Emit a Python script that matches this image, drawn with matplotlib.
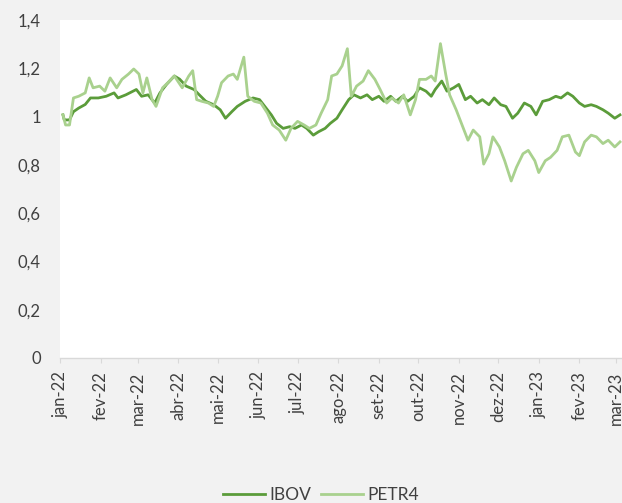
import datetime
import matplotlib
matplotlib.use('Agg')
from matplotlib import pyplot as plt
from matplotlib import dates as mdates
import pandas as pd

# IBOV, normalised to 1 at the start
ibov_dates = [
    '2022-01-03', '2022-01-04', '2022-01-08', '2022-01-11', '2022-01-15', '2022-01-20',
    '2022-01-24', '2022-01-30', '2022-02-05', '2022-02-11', '2022-02-14', '2022-02-20',
    '2022-02-28', '2022-03-04', '2022-03-09', '2022-03-14', '2022-03-18', '2022-03-23',
    '2022-03-29', '2022-04-02', '2022-04-07', '2022-04-13', '2022-04-17', '2022-04-22',
    '2022-04-28', '2022-05-03', '2022-05-07', '2022-05-12', '2022-05-16', '2022-05-22',
    '2022-05-28', '2022-06-02', '2022-06-06', '2022-06-11', '2022-06-15', '2022-06-20',
    '2022-06-25', '2022-06-29', '2022-07-04', '2022-07-08', '2022-07-13', '2022-07-17',
    '2022-07-22', '2022-07-26', '2022-07-31', '2022-08-04', '2022-08-09', '2022-08-13',
    '2022-08-18', '2022-08-23', '2022-08-27', '2022-09-01', '2022-09-05', '2022-09-10',
    '2022-09-14', '2022-09-19', '2022-09-23', '2022-09-28', '2022-10-02', '2022-10-07',
    '2022-10-11', '2022-10-14', '2022-10-19', '2022-10-23', '2022-10-28', '2022-11-01',
    '2022-11-06', '2022-11-10', '2022-11-15', '2022-11-19', '2022-11-24', '2022-11-28',
    '2022-12-03', '2022-12-07', '2022-12-12', '2022-12-16', '2022-12-21', '2022-12-26',
    '2022-12-30', '2023-01-04', '2023-01-09', '2023-01-14', '2023-01-18', '2023-01-23',
    '2023-01-27', '2023-02-01', '2023-02-05', '2023-02-10', '2023-02-14', '2023-02-19',
    '2023-02-23', '2023-02-28', '2023-03-04',
]
ibov = [
    1.007, 0.986, 0.986, 1.020, 1.035, 1.050,
    1.077, 1.077, 1.084, 1.098, 1.077, 1.090,
    1.112, 1.084, 1.090, 1.056, 1.098, 1.133,
    1.168, 1.155, 1.126, 1.112, 1.090, 1.063,
    1.049, 1.028, 0.993, 1.021, 1.042, 1.063,
    1.077, 1.070, 1.042, 1.007, 0.972, 0.951,
    0.958, 0.951, 0.965, 0.951, 0.923, 0.937,
    0.951, 0.972, 0.993, 1.028, 1.070, 1.090,
    1.077, 1.090, 1.070, 1.084, 1.063, 1.084,
    1.063, 1.084, 1.063, 1.084, 1.119, 1.105,
    1.084, 1.112, 1.147, 1.105, 1.119, 1.133,
    1.070, 1.084, 1.056, 1.070, 1.049, 1.077,
    1.049, 1.042, 0.993, 1.014, 1.056, 1.042,
    1.007, 1.063, 1.070, 1.084, 1.077, 1.098,
    1.084, 1.056, 1.042, 1.049, 1.042, 1.028,
    1.014, 0.993, 1.007,
]

# PETR4, normalised to 1 at the start
petr_dates = [
    '2022-01-03', '2022-01-05', '2022-01-08', '2022-01-11', '2022-01-15', '2022-01-20',
    '2022-01-23', '2022-01-26', '2022-01-31', '2022-02-04', '2022-02-08', '2022-02-13',
    '2022-02-17', '2022-02-22', '2022-02-26', '2022-03-02', '2022-03-05', '2022-03-08',
    '2022-03-12', '2022-03-15', '2022-03-20', '2022-03-24', '2022-03-29', '2022-04-04',
    '2022-04-09', '2022-04-12', '2022-04-15', '2022-04-19', '2022-04-24', '2022-04-28',
    '2022-05-01', '2022-05-04', '2022-05-09', '2022-05-13', '2022-05-16', '2022-05-21',
    '2022-05-24', '2022-05-29', '2022-06-03', '2022-06-08', '2022-06-12', '2022-06-17',
    '2022-06-22', '2022-06-26', '2022-07-01', '2022-07-06', '2022-07-10', '2022-07-15',
    '2022-07-19', '2022-07-24', '2022-07-27', '2022-07-31', '2022-08-04', '2022-08-08',
    '2022-08-11', '2022-08-15', '2022-08-20', '2022-08-24', '2022-08-29', '2022-09-02',
    '2022-09-07', '2022-09-11', '2022-09-16', '2022-09-20', '2022-09-25', '2022-09-29',
    '2022-10-02', '2022-10-07', '2022-10-11', '2022-10-14', '2022-10-18', '2022-10-22',
    '2022-10-25', '2022-10-30', '2022-11-03', '2022-11-08', '2022-11-12', '2022-11-17',
    '2022-11-20', '2022-11-24', '2022-11-27', '2022-12-02', '2022-12-06', '2022-12-11',
    '2022-12-15', '2022-12-20', '2022-12-24', '2022-12-29', '2023-01-01', '2023-01-06',
    '2023-01-10', '2023-01-15', '2023-01-19', '2023-01-24', '2023-01-29', '2023-02-01',
    '2023-02-05', '2023-02-10', '2023-02-14', '2023-02-19', '2023-02-23', '2023-02-28',
    '2023-03-04',
]
petr = [
    1.007, 0.965, 0.965, 1.077, 1.084, 1.098,
    1.160, 1.119, 1.126, 1.105, 1.160, 1.119,
    1.154, 1.176, 1.197, 1.176, 1.098, 1.160,
    1.070, 1.042, 1.119, 1.140, 1.168, 1.119,
    1.168, 1.190, 1.070, 1.063, 1.056, 1.042,
    1.084, 1.140, 1.168, 1.176, 1.154, 1.246,
    1.084, 1.063, 1.056, 1.014, 0.965, 0.944,
    0.902, 0.951, 0.980, 0.965, 0.951, 0.965,
    1.014, 1.070, 1.168, 1.176, 1.210, 1.281,
    1.084, 1.126, 1.147, 1.190, 1.154, 1.112,
    1.056, 1.077, 1.056, 1.090, 1.007, 1.070,
    1.154, 1.154, 1.168, 1.147, 1.302, 1.176,
    1.090, 1.028, 0.972, 0.902, 0.944, 0.916,
    0.803, 0.846, 0.916, 0.874, 0.817, 0.733,
    0.790, 0.846, 0.860, 0.817, 0.768, 0.817,
    0.831, 0.860, 0.916, 0.923, 0.853, 0.838,
    0.895, 0.923, 0.916, 0.888, 0.902, 0.874,
    0.895,
]

y_ticks = [0, 0.2, 0.4, 0.6, 0.8, 1, 1.2, 1.4]
month_names = ['jan', 'fev', 'mar', 'abr', 'mai', 'jun', 'jul', 'ago',
               'set', 'out', 'nov', 'dez']

plt.rcParams['font.family'] = ['Lato', 'DejaVu Sans']

fig = plt.figure(figsize=(6.22, 5.03), dpi=100, facecolor='#f2f2f2')
# plot area runs past the right edge, as in the cropped original
ax = fig.add_axes([0.097, 0.2883, 0.9335, 0.672])
ax.set_facecolor('white')

ax.plot(pd.to_datetime(ibov_dates), ibov, color='#5b9c3a', lw=2.0,
        label='IBOV', solid_joinstyle='round')
ax.plot(pd.to_datetime(petr_dates), petr, color='#a9d18e', lw=2.0,
        label='PETR4', solid_joinstyle='round')

ax.set_ylim(0, 1.4)
ax.set_yticks(y_ticks)
ax.set_yticklabels([('%g' % v).replace('.', ',') for v in y_ticks])

start = datetime.date(2022, 1, 1)
ax.set_xlim(start, start + datetime.timedelta(days=443))
ax.xaxis.set_major_locator(mdates.MonthLocator())
ax.xaxis.set_major_formatter(
    plt.FuncFormatter(lambda x, pos: '{}-{}'.format(
        month_names[mdates.num2date(x).month - 1],
        mdates.num2date(x).strftime('%y'))))

for side in ['top', 'right', 'left']:
    ax.spines[side].set_visible(False)
ax.spines['bottom'].set_color('#d9d9d9')
ax.spines['bottom'].set_linewidth(1.0)

ax.tick_params(axis='y', length=0, pad=14, labelsize=12, labelcolor='#404040')
ax.tick_params(axis='x', length=3.6, color='#d9d9d9', pad=6, labelsize=12,
               labelcolor='#404040', labelrotation=90)

fig.legend(loc='center', bbox_to_anchor=(0.516, 0.016), ncol=2, frameon=False,
           fontsize=12.5, handlelength=2.4, handletextpad=0.25, columnspacing=0.6,
           labelcolor='#404040')

plt.savefig('out.png', dpi=100, facecolor=fig.get_facecolor())
plt.close()
